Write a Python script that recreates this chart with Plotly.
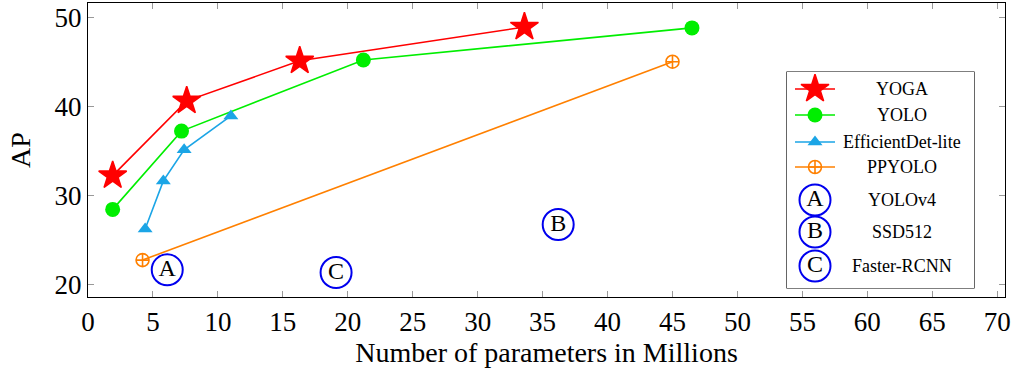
import plotly.graph_objects as go

# ---- data ----
yoga_x = [1.9, 7.6, 16.3, 33.6]
yoga_y = [32.2, 40.6, 45.1, 48.9]
yolo_x = [1.9, 7.2, 21.2, 46.5]
yolo_y = [28.4, 37.2, 45.2, 48.8]
eff_x = [4.4, 5.8, 7.4, 11.0]
eff_y = [26.2, 31.6, 35.1, 38.9]
pp_x = [4.2, 45.0]
pp_y = [22.7, 45.0]
other_names = ["YOLOv4", "SSD512", "Faster-RCNN"]
other_letters = ["A", "B", "C"]
other_x = [6.1, 36.2, 19.1]
other_y = [21.6, 26.7, 21.3]

x_ticks = list(range(0, 75, 5))
y_ticks = [20, 30, 40, 50]

RED = "#ff0000"
GREEN = "#00ee00"
CYAN = "#1ba5e6"
ORANGE = "#ff8000"
BLUE = "#0000ee"
FONT = "'Liberation Serif', 'Times New Roman', Times, serif"

STAR = 21

fig = go.Figure()

fig.add_trace(go.Scatter(x=yoga_x, y=yoga_y, mode="lines+markers", name="YOGA",
                         line=dict(color=RED, width=1.6),
                         marker=dict(symbol="star", size=STAR, color=RED,
                                     line=dict(width=1.5, color=RED))))
fig.add_trace(go.Scatter(x=yolo_x, y=yolo_y, mode="lines+markers", name="YOLO",
                         line=dict(color=GREEN, width=1.6),
                         marker=dict(symbol="circle", size=15, color=GREEN)))
fig.add_trace(go.Scatter(x=eff_x, y=eff_y, mode="lines+markers", name="EfficientDet-lite",
                         line=dict(color=CYAN, width=1.6),
                         marker=dict(symbol="triangle-up", size=13, color=CYAN)))
fig.add_trace(go.Scatter(x=pp_x, y=pp_y, mode="lines+markers", name="PPYOLO",
                         line=dict(color=ORANGE, width=1.6),
                         marker=dict(symbol="circle-cross-open", size=13, color=ORANGE,
                                     line=dict(width=1.6, color=ORANGE))))
fig.add_trace(go.Scatter(x=other_x, y=other_y, mode="markers+text", name="others",
                         text=other_letters, textposition="middle center",
                         textfont=dict(family=FONT, size=24, color="black"),
                         marker=dict(symbol="circle-open", size=31, color=BLUE,
                                     line=dict(width=2, color=BLUE))))

# ---- custom legend on an overlay axis (pixel-like units) ----
leg_rows = [89, 115, 142, 167, 200, 232, 266]
leg_labels = ["YOGA", "YOLO", "EfficientDet-lite", "PPYOLO"] + other_names
leg_styles = [
    dict(color=RED, symbol="star", size=STAR, lw=1.5),
    dict(color=GREEN, symbol="circle", size=15, lw=0),
    dict(color=CYAN, symbol="triangle-up", size=13, lw=0),
    dict(color=ORANGE, symbol="circle-cross-open", size=13, lw=1.6),
]
for i, st in enumerate(leg_styles):
    yv = leg_rows[i]
    fig.add_trace(go.Scatter(x=[795, 835], y=[yv, yv], mode="lines", xaxis="x2", yaxis="y2",
                             line=dict(color=st["color"], width=1.4), showlegend=False,
                             hoverinfo="skip"))
    fig.add_trace(go.Scatter(x=[815], y=[yv], mode="markers", xaxis="x2", yaxis="y2",
                             marker=dict(symbol=st["symbol"], size=st["size"], color=st["color"],
                                         line=dict(width=st["lw"], color=st["color"])),
                             showlegend=False, hoverinfo="skip"))
for j, letter in enumerate(other_letters):
    yv = leg_rows[4 + j]
    fig.add_trace(go.Scatter(x=[815], y=[yv], mode="markers+text", xaxis="x2", yaxis="y2",
                             text=[letter], textposition="middle center",
                             textfont=dict(family=FONT, size=24, color="black"),
                             marker=dict(symbol="circle-open", size=31, color=BLUE,
                                         line=dict(width=2, color=BLUE)),
                             showlegend=False, hoverinfo="skip"))
for i, lab in enumerate(leg_labels):
    fig.add_annotation(x=902, y=leg_rows[i], xref="x2", yref="y2", text=lab, showarrow=False,
                       font=dict(family=FONT, size=18, color="black"),
                       xanchor="center", yanchor="middle")

L, R, T, B = 88, 18, 3, 80
W, H = 1023, 377
pw, ph = W - L - R, H - T - B
box_x0, box_x1, box_y0, box_y1 = 787, 974, 72, 288
dom_x = [(box_x0 - L) / pw, (box_x1 - L) / pw]
dom_y = [(H - B - box_y1) / ph, (H - B - box_y0) / ph]

fig.update_layout(
    width=W, height=H,
    margin=dict(l=L, r=R, t=T, b=B, autoexpand=False),
    paper_bgcolor="white", plot_bgcolor="white",
    showlegend=False,
    font=dict(family=FONT, color="black"),
    xaxis=dict(range=[0, 70.6], tickvals=x_ticks, ticks="inside", ticklen=6,
               tickcolor="#999999", tickwidth=1, showline=True, linecolor="black",
               linewidth=1.2, mirror="allticks", showgrid=False, zeroline=False,
               automargin=False,
               tickfont=dict(family=FONT, size=27),
               title=dict(text="Number of parameters in Millions",
                          font=dict(family=FONT, size=28), standoff=6)),
    yaxis=dict(range=[18.55, 51.6], tickvals=y_ticks, ticks="inside", ticklen=6,
               tickcolor="#999999", tickwidth=1, showline=True, linecolor="black",
               linewidth=1.2, mirror="allticks", showgrid=False, zeroline=False,
               automargin=False,
               tickfont=dict(family=FONT, size=27),
               title=dict(text="AP", font=dict(family=FONT, size=28), standoff=15)),
    xaxis2=dict(domain=dom_x, range=[box_x0, box_x1], anchor="y2", visible=False,
                showgrid=False, zeroline=False, fixedrange=True),
    yaxis2=dict(domain=dom_y, range=[box_y1, box_y0], anchor="x2", visible=False,
                showgrid=False, zeroline=False, fixedrange=True),
    shapes=[dict(type="rect", xref="paper", yref="paper", x0=dom_x[0], x1=dom_x[1],
                 y0=dom_y[0], y1=dom_y[1], line=dict(color="black", width=1.2),
                 fillcolor="white", layer="below")],
)

fig.write_html("out.html", config={"displayModeBar": False},
               post_script="document.body.style.margin='0';")
